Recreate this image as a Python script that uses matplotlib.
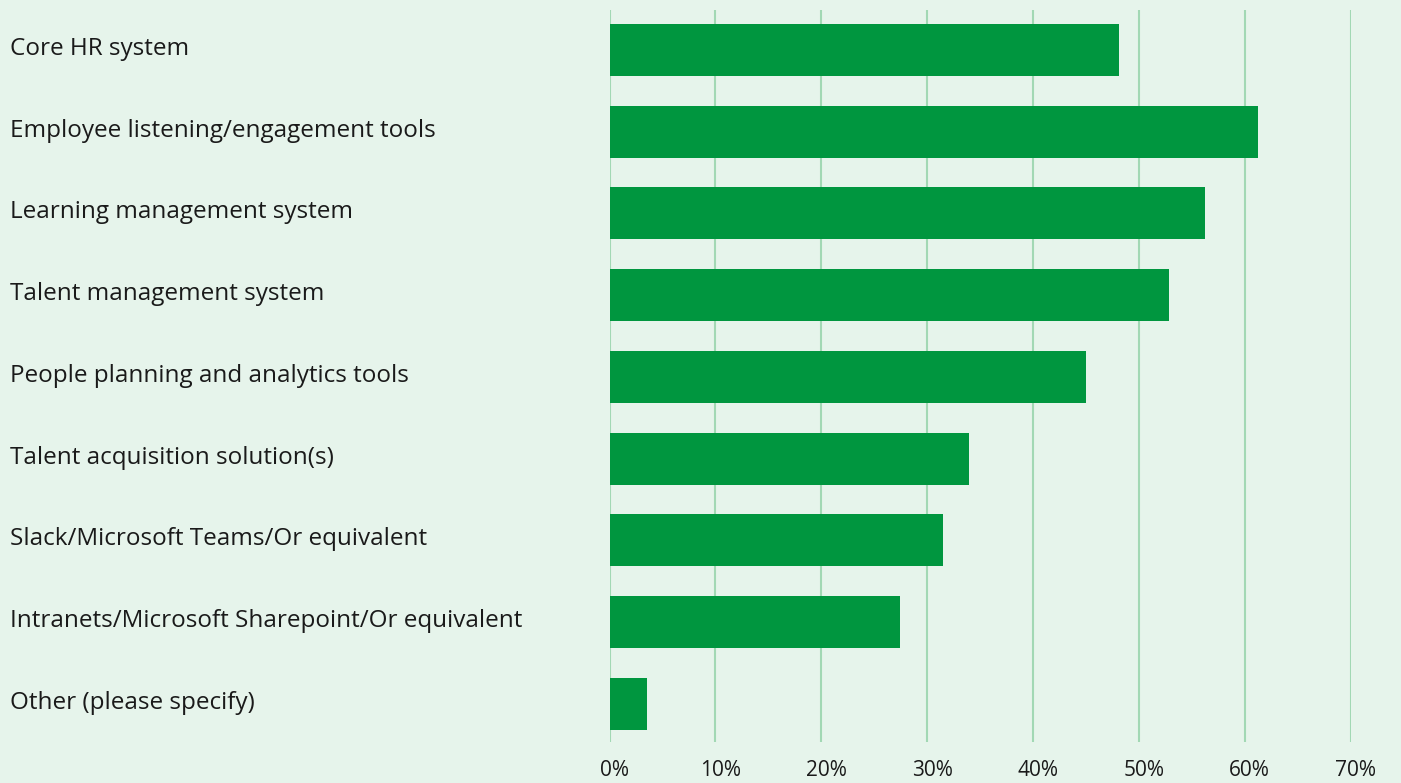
import matplotlib
matplotlib.use("Agg")
import matplotlib.pyplot as plt
from matplotlib.transforms import ScaledTranslation

categories = [
    "Core HR system",
    "Employee listening/engagement tools",
    "Learning management system",
    "Talent management system",
    "People planning and analytics tools",
    "Talent acquisition solution(s)",
    "Slack/Microsoft Teams/Or equivalent",
    "Intranets/Microsoft Sharepoint/Or equivalent",
    "Other (please specify)",
]
values = [48.1, 61.3, 56.3, 52.9, 45.0, 34.0, 31.5, 27.4, 3.5]
xticks = [0, 10, 20, 30, 40, 50, 60, 70]
xtick_labels = ["0%", "10%", "20%", "30%", "40%", "50%", "60%", "70%"]

BG = "#e6f4eb"
BAR = "#00963f"
GRID = "#a2d8b4"
TEXT = "#1a1a1a"

W, H = 1401, 783
fig = plt.figure(figsize=(W / 100, H / 100), dpi=100, facecolor=BG)
left, right, top, bottom = 609.5, 1350.5, 10, 742
ax = fig.add_axes([left / W, 1 - bottom / H, (right - left) / W, (bottom - top) / H])
ax.set_facecolor(BG)

y = list(range(len(categories)))
ax.barh(y, values, height=0.636, color=BAR, zorder=3)

ax.set_xlim(0, 70)
ax.set_ylim(8.465, -0.489)
ax.set_xticks(xticks)
ax.set_xticklabels(xtick_labels)
ax.grid(axis="x", color=GRID, linewidth=1.5, zorder=0)
ax.grid(axis="y", visible=False)
for s in ax.spines.values():
    s.set_visible(False)

font = "Open Sans"
ax.tick_params(axis="x", length=0, pad=13, labelsize=15, labelcolor=TEXT)
for lab in ax.get_xticklabels():
    lab.set_fontfamily(font)
    lab.set_transform(lab.get_transform() + ScaledTranslation(5 / 100, 0, fig.dpi_scale_trans))

ax.set_yticks(y)
ax.set_yticklabels(categories)
pad_pt = (left - 10) * 72 / 100
ax.tick_params(axis="y", length=0, pad=pad_pt, labelsize=17.5, labelcolor=TEXT)
for lab in ax.get_yticklabels():
    lab.set_horizontalalignment("left")
    lab.set_fontfamily(font)
    lab.set_transform(lab.get_transform() + ScaledTranslation(0, 4 / 100, fig.dpi_scale_trans))

fig.savefig("out.png", dpi=100, facecolor=BG)
